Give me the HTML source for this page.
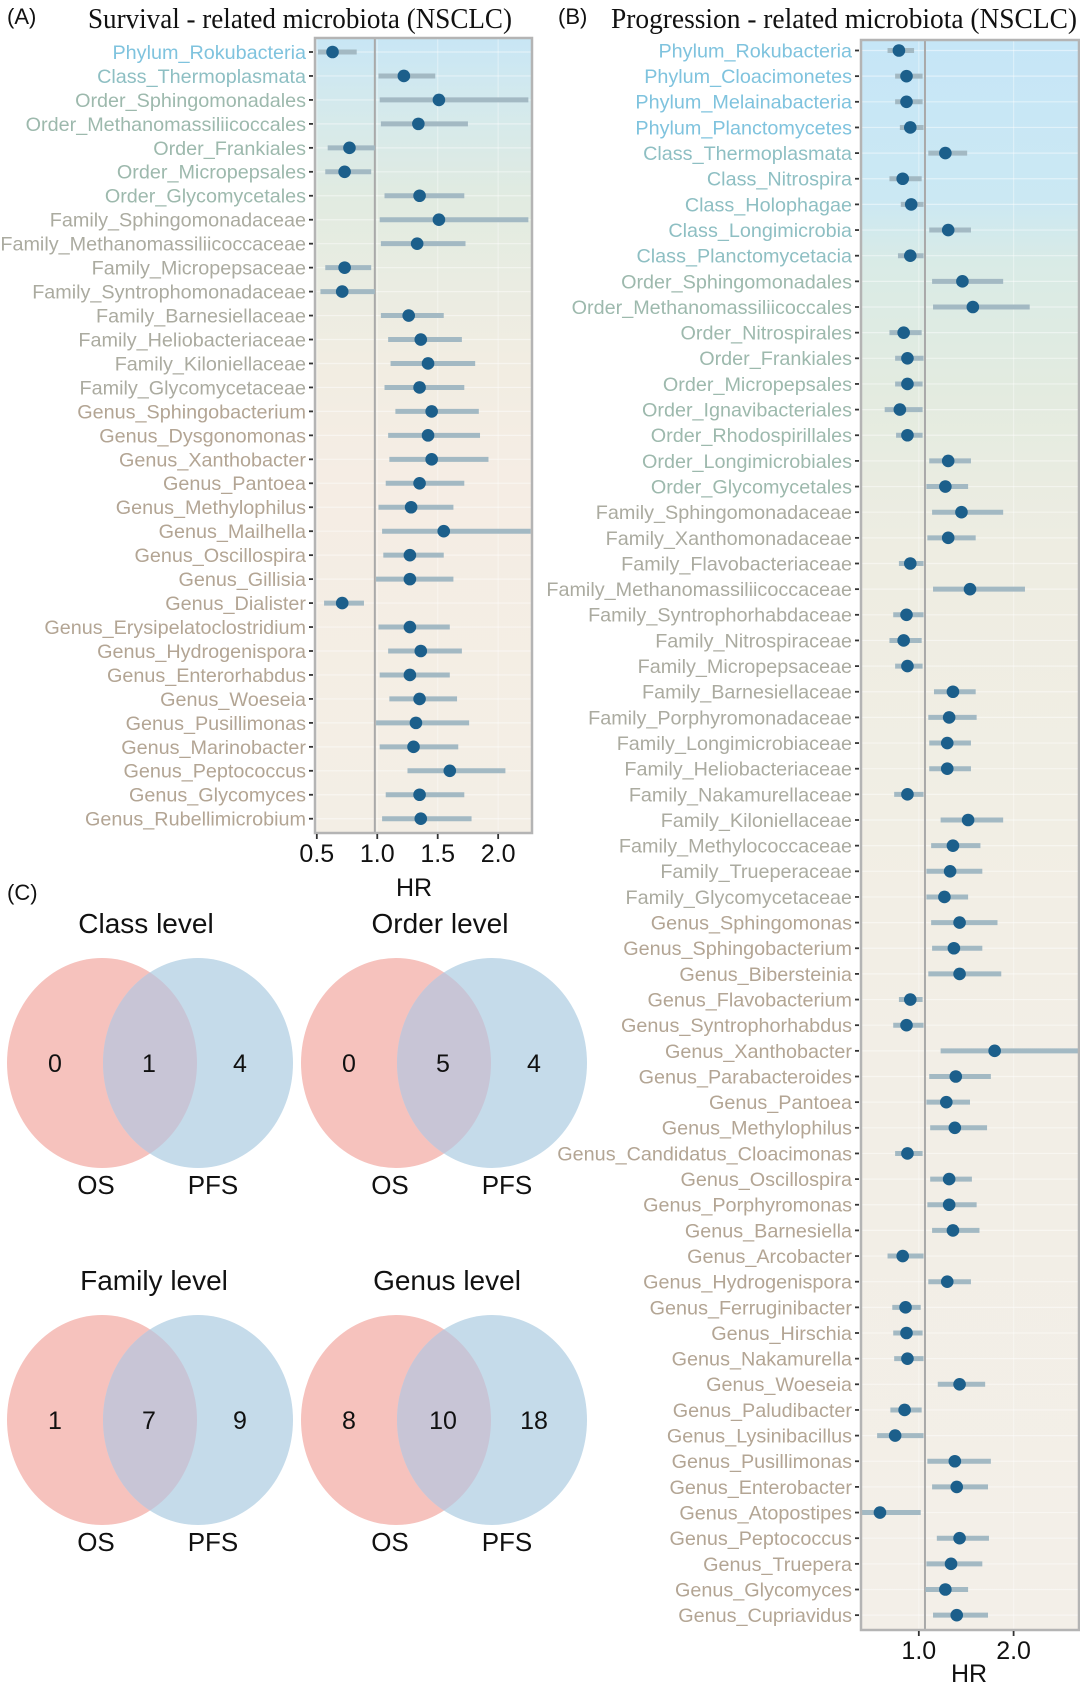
<!DOCTYPE html>
<html><head><meta charset="utf-8"><style>
html,body{margin:0;padding:0;background:#fff;}
svg{display:block;}
</style></head><body>
<svg id="fig" width="1080" height="1683" viewBox="0 0 1080 1683" xmlns="http://www.w3.org/2000/svg" font-family="Liberation Sans, Arial, sans-serif">
<defs>
<linearGradient id="gA" x1="0" y1="0" x2="0" y2="1">
<stop offset="0" stop-color="#c8e6f5"/><stop offset="0.07" stop-color="#d2e9ee"/><stop offset="0.2" stop-color="#e1ebe1"/><stop offset="0.4" stop-color="#f1ede2"/><stop offset="0.55" stop-color="#f5ede4"/><stop offset="1" stop-color="#f3eee5"/>
</linearGradient>
<linearGradient id="gB" x1="0" y1="0" x2="0" y2="1">
<stop offset="0" stop-color="#c6e6f7"/><stop offset="0.1" stop-color="#cbe8f3"/><stop offset="0.14" stop-color="#d9ebe6"/><stop offset="0.22" stop-color="#e3ebe0"/><stop offset="0.32" stop-color="#eeede2"/><stop offset="0.55" stop-color="#f2eee5"/><stop offset="1" stop-color="#f3efe8"/>
</linearGradient>
</defs>
<g id="panelA"></g>
<g id="panelB"></g>
<g id="panelC"></g>
</svg>
<script>
const aLabels=["Phylum_Rokubacteria","Class_Thermoplasmata","Order_Sphingomonadales","Order_Methanomassiliicoccales","Order_Frankiales","Order_Micropepsales","Order_Glycomycetales","Family_Sphingomonadaceae","Family_Methanomassiliicoccaceae","Family_Micropepsaceae","Family_Syntrophomonadaceae","Family_Barnesiellaceae","Family_Heliobacteriaceae","Family_Kiloniellaceae","Family_Glycomycetaceae","Genus_Sphingobacterium","Genus_Dysgonomonas","Genus_Xanthobacter","Genus_Pantoea","Genus_Methylophilus","Genus_Mailhella","Genus_Oscillospira","Genus_Gillisia","Genus_Dialister","Genus_Erysipelatoclostridium","Genus_Hydrogenispora","Genus_Enterorhabdus","Genus_Woeseia","Genus_Pusillimonas","Genus_Marinobacter","Genus_Peptococcus","Genus_Glycomyces","Genus_Rubellimicrobium"];
const aHR=[0.63,1.22,1.51,1.34,0.77,0.73,1.35,1.51,1.33,0.73,0.71,1.26,1.36,1.42,1.35,1.45,1.42,1.45,1.35,1.28,1.55,1.27,1.27,0.71,1.27,1.36,1.27,1.35,1.32,1.30,1.60,1.35,1.36];
const aLo=[0.51,1.01,1.02,1.03,0.59,0.57,1.06,1.02,1.03,0.57,0.53,1.03,1.09,1.11,1.06,1.15,1.09,1.10,1.07,1.01,1.04,1.05,0.99,0.56,1.01,1.09,1.02,1.10,0.99,1.02,1.25,1.07,1.04];
const aHi=[0.83,1.48,2.25,1.75,0.98,0.95,1.72,2.25,1.73,0.95,0.98,1.55,1.70,1.81,1.72,1.84,1.85,1.92,1.72,1.63,2.27,1.55,1.63,0.89,1.60,1.70,1.60,1.66,1.76,1.67,2.06,1.72,1.78];
const aTicks=[0.5,1.0,1.5,2.0];
const aTickLabels=["0.5","1.0","1.5","2.0"];
const aRef=0.98;

const bLabels=["Phylum_Rokubacteria","Phylum_Cloacimonetes","Phylum_Melainabacteria","Phylum_Planctomycetes","Class_Thermoplasmata","Class_Nitrospira","Class_Holophagae","Class_Longimicrobia","Class_Planctomycetacia","Order_Sphingomonadales","Order_Methanomassiliicoccales","Order_Nitrospirales","Order_Frankiales","Order_Micropepsales","Order_Ignavibacteriales","Order_Rhodospirillales","Order_Longimicrobiales","Order_Glycomycetales","Family_Sphingomonadaceae","Family_Xanthomonadaceae","Family_Flavobacteriaceae","Family_Methanomassiliicoccaceae","Family_Syntrophorhabdaceae","Family_Nitrospiraceae","Family_Micropepsaceae","Family_Barnesiellaceae","Family_Porphyromonadaceae","Family_Longimicrobiaceae","Family_Heliobacteriaceae","Family_Nakamurellaceae","Family_Kiloniellaceae","Family_Methylococcaceae","Family_Trueperaceae","Family_Glycomycetaceae","Genus_Sphingomonas","Genus_Sphingobacterium","Genus_Bibersteinia","Genus_Flavobacterium","Genus_Syntrophorhabdus","Genus_Xanthobacter","Genus_Parabacteroides","Genus_Pantoea","Genus_Methylophilus","Genus_Candidatus_Cloacimonas","Genus_Oscillospira","Genus_Porphyromonas","Genus_Barnesiella","Genus_Arcobacter","Genus_Hydrogenispora","Genus_Ferruginibacter","Genus_Hirschia","Genus_Nakamurella","Genus_Woeseia","Genus_Paludibacter","Genus_Lysinibacillus","Genus_Pusillimonas","Genus_Enterobacter","Genus_Atopostipes","Genus_Peptococcus","Genus_Truepera","Genus_Glycomyces","Genus_Cupriavidus"];
const bHR=[0.79,0.87,0.87,0.91,1.28,0.83,0.92,1.31,0.91,1.46,1.57,0.84,0.88,0.88,0.80,0.88,1.31,1.28,1.45,1.31,0.91,1.54,0.87,0.84,0.88,1.36,1.32,1.30,1.30,0.88,1.52,1.36,1.33,1.27,1.43,1.37,1.43,0.91,0.87,1.80,1.39,1.29,1.38,0.88,1.32,1.32,1.36,0.83,1.30,0.86,0.87,0.88,1.43,0.85,0.75,1.38,1.40,0.59,1.43,1.34,1.28,1.40];
const bLo=[0.67,0.75,0.75,0.80,1.10,0.69,0.81,1.11,0.78,1.14,1.15,0.69,0.75,0.75,0.64,0.76,1.11,1.08,1.14,1.09,0.79,1.15,0.73,0.69,0.75,1.16,1.10,1.11,1.11,0.74,1.23,1.13,1.08,1.08,1.13,1.14,1.10,0.79,0.73,1.23,1.11,1.08,1.12,0.75,1.12,1.09,1.14,0.67,1.10,0.72,0.73,0.74,1.20,0.70,0.56,1.09,1.14,0.39,1.19,1.08,1.07,1.15];
const bHi=[0.95,1.04,1.04,1.05,1.51,1.03,1.05,1.55,1.05,1.89,2.17,1.03,1.05,1.04,1.04,1.04,1.55,1.52,1.89,1.60,1.05,2.12,1.05,1.03,1.04,1.60,1.61,1.55,1.55,1.05,1.89,1.65,1.67,1.52,1.83,1.67,1.87,1.04,1.05,2.70,1.76,1.54,1.72,1.04,1.56,1.61,1.64,1.05,1.55,1.02,1.04,1.05,1.70,1.03,1.05,1.76,1.73,1.02,1.74,1.67,1.52,1.73];
const bTicks=[1.0,2.0];
const bTickLabels=["1.0","2.0"];
const bRef=1.065;

const vennTitles=["Class level","Order level","Family level","Genus level"];
const vennOS=[0,0,1,8];
const vennBoth=[1,5,7,10];
const vennPFS=[4,4,9,18];

const NS="http://www.w3.org/2000/svg";
function mk(parent,tag,attrs,text){const e=document.createElementNS(NS,tag);for(const k in attrs)e.setAttribute(k,attrs[k]);if(text!==undefined)e.textContent=text;parent.appendChild(e);return e;}
function labelColor(l){
  if(l.startsWith("Phylum"))return "#7fc3de";
  if(l.startsWith("Class"))return "#8ebfc3";
  if(l.startsWith("Order"))return "#9db9ad";
  if(l.startsWith("Family"))return "#ababa0";
  return "#b3a594";
}

function forest(g,cfg){
  const {labels,hr,lo,hi,ticks,tickLabels,ref,box,dom,row0,rowStep,grad,labelEnd,title,titleX,titleLen,tag,tagX,hrX,tickY,hrY,tickBaseY}=cfg;
  const x=v=>box.x0+(v-dom[0])/(dom[1]-dom[0])*(box.x1-box.x0);
  const y=i=>row0+i*rowStep;
  let e;
  e=mk(g,"text",{x:tagX,y:24,"font-size":22,fill:"#111"},tag);
  
  
  e=mk(g,"text",{x:titleX,y:28,"font-size":28,"font-family":"Liberation Serif, serif",fill:"#111",textLength:titleLen,lengthAdjust:"spacingAndGlyphs"},title);
  
  
  e=mk(g,"rect",{x:box.x0,y:box.y0,width:box.x1-box.x0,height:box.y1-box.y0,fill:"url(#"+grad+")"});
  
  
  labels.forEach((l,i)=>{
    const gl=mk(g,"line",{x1:box.x0,x2:box.x1,y1:y(i),y2:y(i),stroke:"#ffffff","stroke-opacity":0.45,"stroke-width":1.2});
    
    
  });
  ticks.forEach(t=>{
    const gv=mk(g,"line",{x1:x(t),x2:x(t),y1:box.y0,y2:box.y1,stroke:"#ffffff","stroke-opacity":0.35,"stroke-width":1.2});
    
    
  });
  e=mk(g,"line",{x1:x(ref),x2:x(ref),y1:box.y0,y2:box.y1,stroke:"#a9a9a9","stroke-width":2});
  
  
  labels.forEach((l,i)=>{
    const lx0=Math.max(x(lo[i]),box.x0), lx1=Math.min(x(hi[i]),box.x1);
    const ci=mk(g,"line",{x1:lx0,x2:lx1,y1:y(i),y2:y(i),stroke:"#a3b9c3","stroke-width":5});
    
    
    const pt=mk(g,"circle",{cx:x(hr[i]),cy:y(i),r:6.3,fill:"#1c5f8b"});
    
    
    const tx=mk(g,"text",{x:labelEnd,y:y(i),dy:"0.35em","text-anchor":"end","font-size":19.8,fill:labelColor(l)},l);
    
    
    const tk=mk(g,"line",{x1:labelEnd+3,x2:labelEnd+7,y1:y(i),y2:y(i),stroke:"#333","stroke-width":1.8});
    
    
  });
  e=mk(g,"rect",{x:box.x0,y:box.y0,width:box.x1-box.x0,height:box.y1-box.y0,fill:"none",stroke:"#b4b4b4","stroke-width":2.5});
  
  
  ticks.forEach((t,k)=>{
    const tk=mk(g,"line",{x1:x(t),x2:x(t),y1:box.y1+1,y2:box.y1+6,stroke:"#333","stroke-width":1.8});
    
    
    const tl=mk(g,"text",{x:x(t),y:tickBaseY,"text-anchor":"middle","font-size":25,fill:"#111"},tickLabels[k]);
    
    
  });
  e=mk(g,"text",{x:hrX,y:hrY,"text-anchor":"middle","font-size":25,fill:"#111"},"HR");
  
  
}

forest(document.getElementById("panelA"),{labels:aLabels,hr:aHR,lo:aLo,hi:aHi,ticks:aTicks,tickLabels:aTickLabels,ref:aRef,
  box:{x0:315,x1:532,y0:38,y1:833},dom:[0.485,2.28],row0:52,rowStep:23.96,grad:"gA",labelEnd:306,
  title:"Survival - related microbiota (NSCLC)",titleX:88,titleLen:424,tag:"(A)",tagX:7,hrX:414,tickBaseY:862,hrY:896});
forest(document.getElementById("panelB"),{labels:bLabels,hr:bHR,lo:bLo,hi:bHi,ticks:bTicks,tickLabels:bTickLabels,ref:bRef,
  box:{x0:861,x1:1079,y0:40,y1:1630},dom:[0.39,2.69],row0:50.5,rowStep:25.65,grad:"gB",labelEnd:852,
  title:"Progression - related microbiota  (NSCLC)",titleX:611,titleLen:466,tag:"(B)",tagX:558,hrX:969,tickBaseY:1659,hrY:1682});

// Venn
const gC=document.getElementById("panelC");
let ct=mk(gC,"text",{x:7,y:900,"font-size":22,fill:"#111"},"(C)");


const vcx=[102,396,102,396], vcy=[1063,1063,1420,1420], vtx=[146,440,154,447];
const defs=document.querySelector("defs");
vennTitles.forEach((t,k)=>{
  const g=mk(gC,"g",{});
  
  
  const cx=vcx[k], cy=vcy[k], rx=95, ry=105, d=96;
  const cp=mk(defs,"clipPath",{id:"clip"+k});
  mk(cp,"ellipse",{cx:cx+d,cy:cy,rx:rx,ry:ry});
  let e=mk(g,"ellipse",{cx:cx,cy:cy,rx:rx,ry:ry,fill:"#f6c2bd"});
  
  
  e=mk(g,"ellipse",{cx:cx+d,cy:cy,rx:rx,ry:ry,fill:"#c5dbea"});
  
  
  e=mk(g,"ellipse",{cx:cx,cy:cy,rx:rx,ry:ry,fill:"#c8c5d6","clip-path":"url(#clip"+k+")"});
  
  
  e=mk(g,"text",{x:vtx[k],y:cy-130,"text-anchor":"middle","font-size":28,fill:"#111"},t);
  
  
  const nums=[[cx-47,vennOS[k]],[cx+47,vennBoth[k]],[cx+138,vennPFS[k]]];
  nums.forEach(([nx,v])=>{
    const n=mk(g,"text",{x:nx,y:cy+9,"text-anchor":"middle","font-size":25,fill:"#111"},String(v));
    
    
  });
  e=mk(g,"text",{x:cx-6,y:cy+131,"text-anchor":"middle","font-size":26,fill:"#111"},"OS");
  
  
  e=mk(g,"text",{x:cx+111,y:cy+131,"text-anchor":"middle","font-size":26,fill:"#111"},"PFS");
  
  
});
</script>
</body></html>
